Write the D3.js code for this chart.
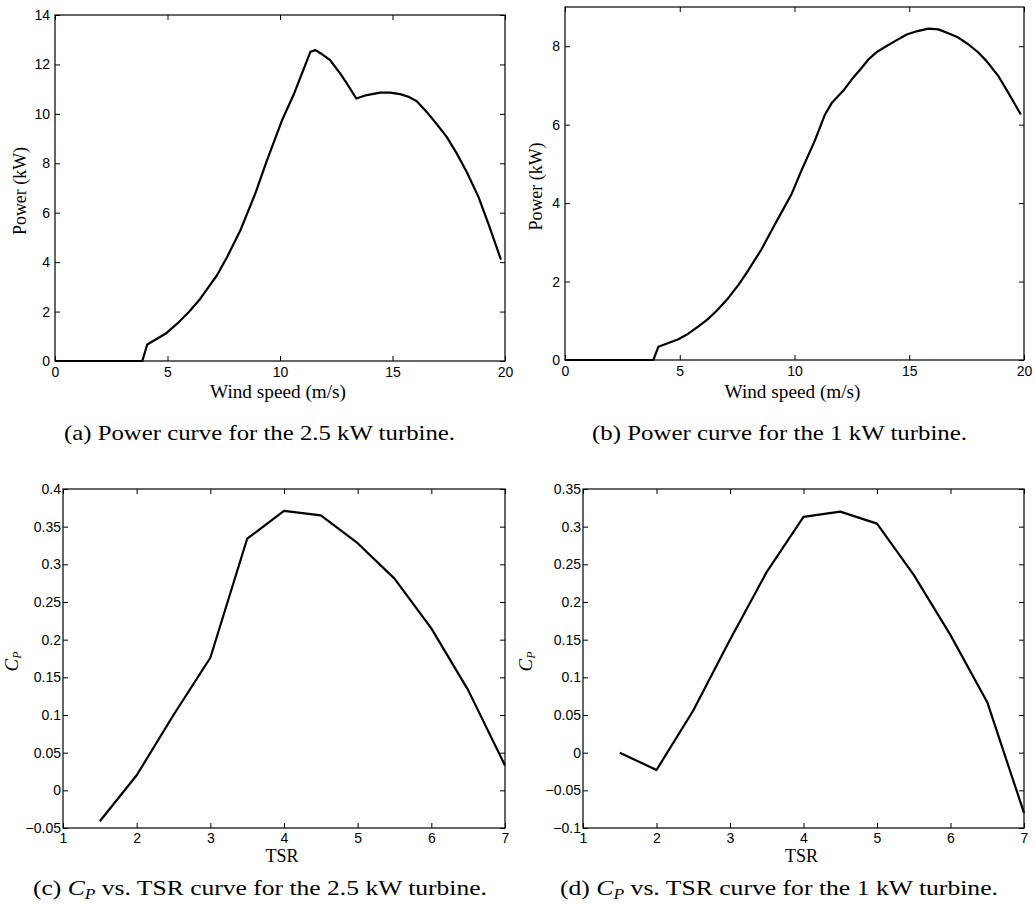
<!DOCTYPE html>
<html>
<head>
<meta charset="utf-8">
<script src="https://cdn.jsdelivr.net/npm/d3@7"></script>
<style>
  html, body { margin: 0; padding: 0; background: #ffffff; }
  svg { display: block; }
  .tick text { font-family: "Liberation Sans", Arial, sans-serif; font-size: 14px; fill: #000; }
  .serif { font-family: "Liberation Serif", "Times New Roman", serif; fill: #000; }
</style>
</head>
<body>
<svg id="chart" width="1035" height="907"></svg>
<script>
// ---------- Data ----------
// (a) Power curve, 2.5 kW turbine
const windA  = [0, 3.88, 4.1, 4.91, 5.43, 5.95, 6.46, 6.83, 7.2, 7.65, 8.24, 8.9, 9.42, 10.09, 10.6, 11.35, 11.57, 11.86, 12.23, 12.68, 12.97, 13.39, 13.86, 14.45, 14.9, 15.34, 15.71, 16.08, 16.52, 16.97, 17.41, 17.86, 18.3, 18.82, 19.26, 19.82];
const powerA = [0, 0, 0.67, 1.1, 1.51, 1.98, 2.52, 3.0, 3.47, 4.21, 5.29, 6.77, 8.12, 9.74, 10.76, 12.51, 12.58, 12.42, 12.17, 11.63, 11.23, 10.62, 10.76, 10.86, 10.86, 10.8, 10.69, 10.51, 10.08, 9.58, 9.07, 8.39, 7.65, 6.64, 5.56, 4.1];

// (b) Power curve, 1 kW turbine
const windB  = [0, 3.85, 4.07, 4.94, 5.37, 5.8, 6.2, 6.6, 7.1, 7.55, 8.0, 8.57, 9.0, 9.44, 9.88, 10.31, 10.89, 11.33, 11.62, 12.13, 12.49, 12.93, 13.22, 13.58, 13.94, 14.38, 14.89, 15.32, 15.83, 16.27, 16.7, 17.14, 17.57, 18.01, 18.37, 18.88, 19.32, 19.86];
const powerB = [0, 0, 0.34, 0.53, 0.67, 0.85, 1.03, 1.25, 1.57, 1.91, 2.3, 2.83, 3.3, 3.77, 4.24, 4.84, 5.6, 6.26, 6.55, 6.87, 7.15, 7.45, 7.66, 7.85, 7.98, 8.13, 8.30, 8.38, 8.45, 8.43, 8.33, 8.22, 8.05, 7.84, 7.62, 7.24, 6.81, 6.26];

// (c), (d) Cp vs TSR
const tsr = [1.5, 2, 2.5, 3, 3.5, 4, 4.5, 5, 5.5, 6, 6.5, 7];
const cpC = [-0.041, 0.020, 0.100, 0.176, 0.334, 0.371, 0.365, 0.328, 0.281, 0.215, 0.133, 0.033];
const cpD = [0.000, -0.023, 0.056, 0.150, 0.240, 0.313, 0.320, 0.304, 0.236, 0.156, 0.067, -0.080];

// Tick values
const windTicks  = [0, 5, 10, 15, 20];
const powerTicksA = [0, 2, 4, 6, 8, 10, 12, 14];
const powerTicksB = [0, 2, 4, 6, 8];
const tsrTicks   = [1, 2, 3, 4, 5, 6, 7];
const cpTicksC   = [-0.05, 0, 0.05, 0.1, 0.15, 0.2, 0.25, 0.3, 0.35, 0.4];
const cpTicksD   = [-0.1, -0.05, 0, 0.05, 0.1, 0.15, 0.2, 0.25, 0.3, 0.35];

// ---------- Layout ----------
const panels = [
  { x: windA, y: powerA, box: [55, 505, 15, 361], xd: [0, 20], yd: [0, 14], xt: windTicks, yt: powerTicksA,
    xlab: "Wind speed (m/s)", xlabY: 398, xlabW: 136, ylab: "power", ylabX: 26, ylabW: 88, xpad: 6, ypad: 5,
    cap: { id: "a", pre: "(a) Power curve for the 2.5 kW turbine.", x: 64, y: 440, w: 391 } },
  { x: windB, y: powerB, box: [565, 1024, 7, 360], xd: [0, 20], yd: [0, 9], xt: windTicks, yt: powerTicksB,
    xlab: "Wind speed (m/s)", xlabY: 398, xlabW: 136, ylab: "power", ylabX: 542, ylabW: 88, xpad: 6, ypad: 5,
    cap: { id: "b", pre: "(b) Power curve for the 1 kW turbine.", x: 592, y: 440, w: 375 } },
  { x: tsr, y: cpC, box: [63, 505, 489, 828], xd: [1, 7], yd: [-0.05, 0.4], xt: tsrTicks, yt: cpTicksC,
    xlab: "TSR", xlabY: 862, xlabW: 33, ylab: "cp", ylabX: 18, xpad: 5, ypad: 2,
    cap: { id: "c", cp: true, pre: "(c) ", post: " vs. TSR curve for the 2.5 kW turbine.", x: 33, y: 895, w: 454 } },
  { x: tsr, y: cpD, box: [583, 1024, 489, 828], xd: [1, 7], yd: [-0.1, 0.35], xt: tsrTicks, yt: cpTicksD,
    xlab: "TSR", xlabY: 862, xlabW: 33, ylab: "cp", ylabX: 532, xpad: 5, ypad: 2,
    cap: { id: "d", cp: true, pre: "(d) ", post: " vs. TSR curve for the 1 kW turbine.", x: 560, y: 895, w: 438 } }
];

const svg = d3.select("#chart");
const fmt = v => {
  let s = String(+v.toFixed(2));
  return s.replace("-", "\u2212");
};

panels.forEach(p => {
  const [x0, x1, y0, y1] = p.box;
  const xs = d3.scaleLinear().domain(p.xd).range([x0, x1]);
  const ys = d3.scaleLinear().domain(p.yd).range([y1, y0]);
  const g = svg.append("g");

  const bx = g.append("g").attr("transform", `translate(0,${y1})`)
    .call(d3.axisBottom(xs).tickValues(p.xt).tickSize(-5).tickPadding(p.xpad).tickFormat(fmt));
  const ly = g.append("g").attr("transform", `translate(${x0},0)`)
    .call(d3.axisLeft(ys).tickValues(p.yt).tickSize(-5).tickPadding(p.ypad).tickFormat(fmt));
  const tx = g.append("g").attr("transform", `translate(0,${y0})`)
    .call(d3.axisTop(xs).tickValues(p.xt).tickSize(-5).tickFormat(""));
  const ry = g.append("g").attr("transform", `translate(${x1},0)`)
    .call(d3.axisRight(ys).tickValues(p.yt).tickSize(-5).tickFormat(""));
  [bx, ly, tx, ry].forEach(a => {
    a.select(".domain").remove();
    a.attr("font-family", null).attr("font-size", null);
    a.selectAll(".tick line").attr("stroke", "#000").attr("stroke-width", 1);
  });
  bx.selectAll(".tick text").attr("dy", "0.72em");

  g.append("rect").attr("x", x0).attr("y", y0).attr("width", x1 - x0).attr("height", y1 - y0)
    .attr("fill", "none").attr("stroke", "#000").attr("stroke-width", 1.2);

  const pts = p.x.map((v, i) => [v, p.y[i]]);
  g.append("path").datum(pts)
    .attr("fill", "none").attr("stroke", "#000").attr("stroke-width", 2.2).attr("stroke-linejoin", "round")
    .attr("d", d3.line().x(d => xs(d[0])).y(d => ys(d[1])));

  g.append("text").attr("class", "serif").attr("x", (x0 + x1) / 2 - 2).attr("y", p.xlabY)
    .attr("text-anchor", "middle").attr("font-size", 18)
    .attr("textLength", p.xlabW).attr("lengthAdjust", "spacingAndGlyphs").text(p.xlab);

  const cy = (y0 + y1) / 2;
  const yl = g.append("text").attr("class", "serif")
    .attr("transform", `translate(${p.ylabX},${cy + 3}) rotate(-90)`)
    .attr("text-anchor", "middle").attr("font-size", 18);
  if (p.ylab === "power") {
    yl.attr("textLength", p.ylabW).attr("lengthAdjust", "spacingAndGlyphs").text("Power (kW)");
  } else {
    yl.append("tspan").attr("font-style", "italic").attr("font-size", 19).text("C");
    yl.append("tspan").attr("font-style", "italic").attr("font-size", 12).attr("dy", 3).text("P");
  }

  const c = p.cap;
  const ct = g.append("text").attr("class", "serif").attr("x", c.x).attr("y", c.y)
    .attr("font-size", 22).attr("textLength", c.w).attr("lengthAdjust", "spacingAndGlyphs");
  if (c.cp) {
    ct.append("tspan").text(c.pre);
    ct.append("tspan").attr("font-style", "italic").text("C");
    ct.append("tspan").attr("font-style", "italic").attr("font-size", 15).attr("dy", 4).text("P");
    ct.append("tspan").attr("dy", -4).text(c.post);
  } else {
    ct.text(c.pre);
  }
});
</script>
</body>
</html>
